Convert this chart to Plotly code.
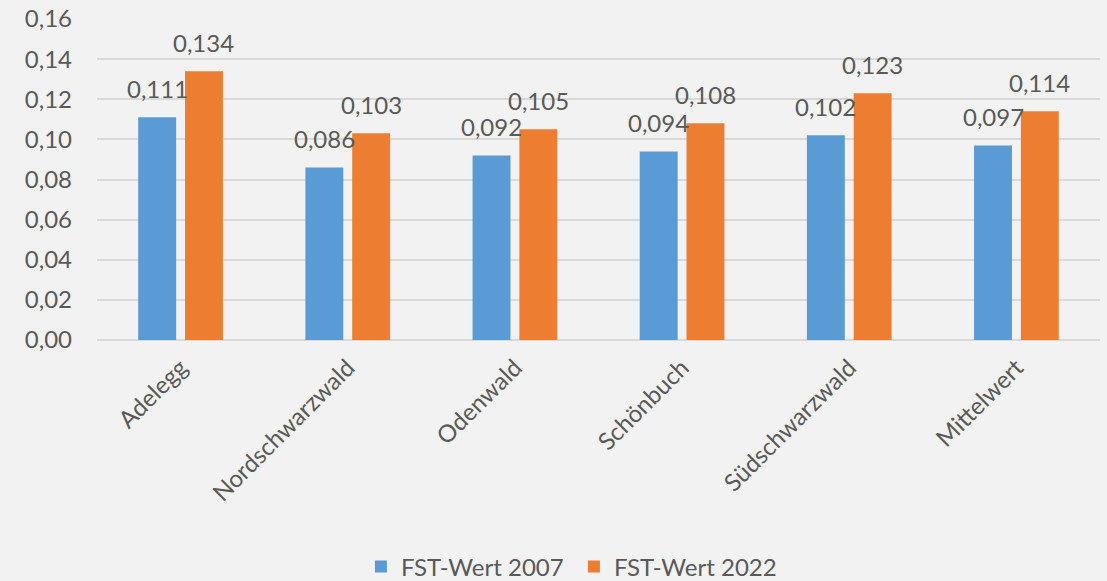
import plotly.graph_objects as go

categories = ["Adelegg", "Nordschwarzwald", "Odenwald", "Schönbuch", "Südschwarzwald", "Mittelwert"]
fst_2007 = [0.111, 0.086, 0.092, 0.094, 0.102, 0.097]
fst_2022 = [0.134, 0.103, 0.105, 0.108, 0.123, 0.114]
y_ticks = [0.00, 0.02, 0.04, 0.06, 0.08, 0.10, 0.12, 0.14, 0.16]

FONT = "Lato"
GRAY = "#595959"
FS = 24
W, H = 1107, 581
ML, MR, MT, MB = 97, 7, 19, 241
BARGAP, BARGROUPGAP = 0.44, 0.19

fig = go.Figure()
fig.add_trace(go.Bar(
    x=categories, y=fst_2007, name="FST-Wert 2007",
    marker=dict(color="#5b9bd5", line=dict(width=0)),
))
fig.add_trace(go.Bar(
    x=categories, y=fst_2022, name="FST-Wert 2022",
    marker=dict(color="#ed7d31", line=dict(width=0)),
))

# data labels (placed above each bar, offset to the bar's slot within the group)
cat_w = (W - ML - MR) / len(categories)
slot = cat_w * (1 - BARGAP) / 2
for series, sign in ((fst_2007, -1), (fst_2022, 1)):
    for c, v in zip(categories, series):
        fig.add_annotation(x=c, y=v, xref="x", yref="y", text=f"{v:.3f}".replace(".", ","),
                           showarrow=False, yanchor="bottom", xanchor="center",
                           xshift=sign * slot / 2, yshift=12,
                           font=dict(family=FONT, size=FS, color=GRAY))

fig.update_layout(
    width=W, height=H,
    margin=dict(l=ML, r=MR, t=MT, b=MB, autoexpand=False),
    paper_bgcolor="#f2f2f2", plot_bgcolor="#f2f2f2",
    separators=",.",
    barmode="group", bargap=BARGAP, bargroupgap=BARGROUPGAP,
    font=dict(family=FONT, size=FS, color=GRAY),
    legend=dict(orientation="h", x=0.4755, xanchor="center", y=-0.707, yanchor="middle",
                font=dict(family=FONT, size=FS, color=GRAY), bgcolor="rgba(0,0,0,0)",
                itemwidth=30, traceorder="normal", entrywidth=168),
    showlegend=True,
)
fig.update_yaxes(range=[0, 0.16], tickvals=y_ticks, tickformat=".2f",
                 showgrid=True, gridcolor="#d9d9d9", gridwidth=2,
                 zeroline=True, zerolinecolor="#d9d9d9", zerolinewidth=2,
                 showline=False, ticks="", ticklabelstandoff=24,
                 tickfont=dict(family=FONT, size=FS, color=GRAY))
fig.update_xaxes(tickangle=-45, showgrid=False, showline=False, ticks="",
                 ticklabelstandoff=8,
                 tickfont=dict(family=FONT, size=FS, color=GRAY))

fig.write_html("out.html", config={"displayModeBar": False},
               post_script="document.body.style.margin='0';document.body.style.background='#f2f2f2';")
